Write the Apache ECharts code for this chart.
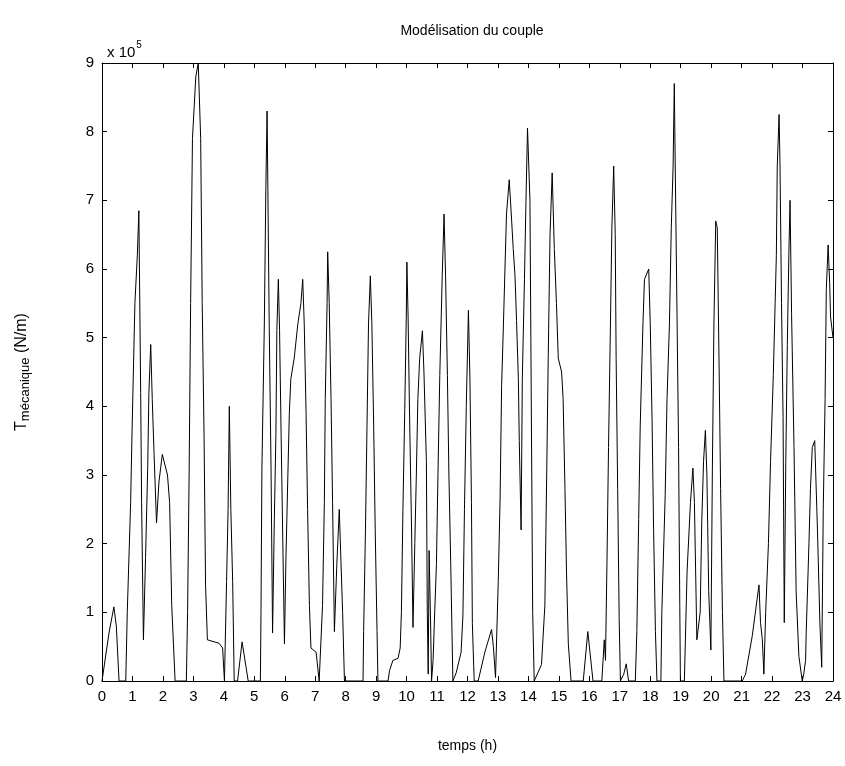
<!DOCTYPE html>
<html>
<head>
<meta charset="utf-8">
<script src="https://cdn.jsdelivr.net/npm/echarts@6/dist/echarts.min.js"></script>
<style>
html,body{margin:0;padding:0;background:#fff;}
#chart{width:845px;height:766px;}
</style>
</head>
<body>
<div id="chart"></div>
<script>
// time (h)
var hours = [
 0, 0.23, 0.39, 0.47, 0.56, 0.78, 0.83, 0.94, 0.99, 1.08, 1.16, 1.21, 1.27, 1.30, 1.36, 1.43, 1.50, 1.54, 1.60, 1.65,
 1.71, 1.79, 1.87, 1.98, 2.15, 2.22, 2.29, 2.40, 2.77, 2.81, 2.86, 2.91, 2.97, 3.08, 3.16, 3.24, 3.29, 3.35, 3.40, 3.46,
 3.84, 3.96, 4.02, 4.05, 4.09, 4.14, 4.18, 4.23, 4.29, 4.34, 4.45, 4.60, 4.73, 4.80, 5.20, 5.22, 5.25, 5.33, 5.38, 5.42,
 5.49, 5.55, 5.60, 5.66, 5.71, 5.74, 5.79, 5.83, 5.88, 5.93, 5.99, 6.04, 6.15, 6.20, 6.31, 6.43, 6.53, 6.59, 6.64, 6.70,
 6.75, 6.81, 6.86, 7.03, 7.13, 7.19, 7.24, 7.30, 7.33, 7.39, 7.41, 7.46, 7.52, 7.57, 7.63, 7.71, 7.79, 7.90, 7.96, 8.57,
 8.59, 8.65, 8.70, 8.75, 8.81, 8.86, 8.92, 8.97, 9.03, 9.06, 9.39, 9.44, 9.55, 9.72, 9.79, 9.83, 9.88, 9.94, 9.99, 10.01,
 10.05, 10.10, 10.16, 10.21, 10.27, 10.32, 10.37, 10.43, 10.52, 10.57, 10.65, 10.68, 10.71, 10.74, 10.79, 10.82, 10.87, 10.92, 10.98, 11.03,
 11.09, 11.17, 11.23, 11.28, 11.34, 11.39, 11.45, 11.52, 11.63, 11.79, 11.85, 11.90, 11.96, 12.03, 12.08, 12.13, 12.16, 12.22, 12.35, 12.57,
 12.79, 12.85, 12.92, 13.01, 13.07, 13.12, 13.18, 13.23, 13.28, 13.37, 13.45, 13.50, 13.56, 13.61, 13.67, 13.70, 13.76, 13.80, 13.87, 13.92,
 13.97, 14.05, 14.08, 14.14, 14.19, 14.43, 14.54, 14.60, 14.65, 14.71, 14.78, 14.85, 14.92, 14.98, 15.09, 15.14, 15.20, 15.25, 15.31, 15.40,
 15.80, 15.95, 16.12, 16.41, 16.49, 16.53, 16.58, 16.63, 16.69, 16.74, 16.80, 16.85, 16.88, 16.93, 16.98, 17.02, 17.13, 17.21, 17.29, 17.51,
 17.56, 17.62, 17.67, 17.76, 17.81, 17.95, 18.00, 18.06, 18.11, 18.17, 18.22, 18.35, 18.38, 18.49, 18.55, 18.63, 18.69, 18.75, 18.79, 18.82,
 18.88, 18.93, 18.97, 18.99, 19.12, 19.21, 19.32, 19.40, 19.45, 19.53, 19.64, 19.69, 19.75, 19.81, 19.86, 19.92, 19.99, 20.04, 20.09, 20.15,
 20.20, 20.26, 20.31, 20.37, 20.42, 21.02, 21.13, 21.35, 21.57, 21.62, 21.68, 21.73, 21.79, 21.88, 21.95, 22.04, 22.10, 22.14, 22.17, 22.23,
 22.26, 22.31, 22.36, 22.40, 22.45, 22.50, 22.55, 22.59, 22.64, 22.72, 22.79, 22.88, 22.99, 23.04, 23.10, 23.12, 23.21, 23.26, 23.32, 23.40,
 23.49, 23.57, 23.63, 23.68, 23.74, 23.78, 23.84, 23.89, 23.92, 24.00
];
// T mécanique, in units of 1e5 N/m
var torque = [
 0, 0.7, 1.08, 0.8, 0, 0, 1.0, 2.6, 3.7, 5.5, 6.2, 6.85, 4.2, 2.6, 0.6, 1.8, 3.1, 4.2, 4.9, 4.1,
 3.3, 2.3, 2.9, 3.3, 3.0, 2.6, 1.1, 0, 0, 1.0, 3.0, 5.5, 7.9, 8.8, 9.0, 7.9, 5.5, 3.6, 1.4, 0.6,
 0.55, 0.48, 0, 0, 1.45, 2.5, 4.0, 2.5, 1.45, 0, 0, 0.57, 0.2, 0, 0, 1.0, 3.1, 5.2, 7.2, 8.3,
 5.2, 3.1, 0.7, 2.4, 3.6, 5.1, 5.85, 5.1, 3.6, 2.2, 0.54, 1.8, 3.9, 4.4, 4.7, 5.2, 5.5, 5.85, 5.2, 3.9,
 2.5, 1.1, 0.48, 0.42, 0, 0, 1.1, 2.6, 4.1, 5.5, 6.25, 5.5, 4.1, 2.6, 0.72, 1.7, 2.5, 1.0, 0, 0,
 0.72, 2.2, 3.7, 5.2, 5.9, 5.2, 3.7, 2.2, 0.72, 0, 0, 0.15, 0.3, 0.33, 0.48, 1.0, 2.5, 3.95, 5.3, 6.1,
 5.3, 3.8, 2.3, 0.78, 2.0, 3.0, 4.1, 4.7, 5.1, 4.5, 3.2, 1.0, 0.1, 1.9, 0.8, 0, 0.3, 0.96, 1.7, 3.0,
 4.45, 5.9, 6.8, 5.9, 4.45, 3.0, 1.7, 0, 0.12, 0.42, 0.96, 2.5, 4.0, 5.4, 4.4, 2.6, 0.84, 0, 0, 0.42,
 0.75, 0.5, 0.05, 1.45, 2.65, 4.3, 5.2, 6.0, 6.8, 7.3, 6.7, 6.3, 5.9, 5.25, 4.4, 3.5, 2.2, 4.4, 5.85, 7.0,
 8.05, 7.0, 5.0, 1.0, 0, 0.24, 1.1, 3.0, 4.7, 6.5, 7.4, 6.3, 5.5, 4.7, 4.5, 4.1, 2.8, 1.6, 0.54, 0,
 0, 0.72, 0, 0, 0.6, 0.3, 1.75, 3.4, 5.1, 6.6, 7.5, 6.5, 4.7, 2.8, 0.9, 0, 0.1, 0.25, 0, 0,
 0.72, 2.35, 3.7, 5.2, 5.85, 6.0, 5.2, 3.8, 2.2, 0.72, 0, 0, 1.0, 2.7, 4.1, 5.2, 6.6, 7.5, 8.7, 7.5,
 5.3, 3.4, 1.1, 0, 0, 1.6, 2.6, 3.1, 2.6, 0.6, 1.0, 2.3, 3.2, 3.65, 3.0, 1.3, 0.45, 3.1, 5.2, 6.7,
 6.6, 4.6, 2.8, 1.0, 0, 0, 0.1, 0.66, 1.4, 0.85, 0.6, 0.1, 1.0, 2.0, 3.2, 4.45, 5.5, 6.2, 7.5, 8.25,
 7.5, 5.5, 3.85, 0.85, 3.2, 4.9, 6.2, 7.0, 5.35, 3.4, 1.3, 0.36, 0, 0.1, 0.3, 0.7, 2.0, 2.8, 3.4, 3.5,
 2.2, 0.84, 0.2, 2.5, 4.1, 5.7, 6.35, 5.8, 5.3, 5.0
];
var xTicks = [0,1,2,3,4,5,6,7,8,9,10,11,12,13,14,15,16,17,18,19,20,21,22,23,24];
var yTicks = [0,1,2,3,4,5,6,7,8,9];

var series = [];
for (var i = 0; i < hours.length; i++) series.push([hours[i], torque[i]]);

var font = "'Liberation Sans Narrow', 'Liberation Sans', Arial, sans-serif";
var chart = echarts.init(document.getElementById('chart'), null, {renderer: 'canvas'});
var axisCommon = {
  axisLine: {show: true, onZero: false, lineStyle: {color: '#000', width: 1}},
  axisTick: {show: true, inside: true, length: 5, lineStyle: {color: '#000'}},
  splitLine: {show: false}
};
chart.setOption({
  backgroundColor: '#ffffff',
  animation: false,
  title: [
    {text: 'Modélisation du couple', left: 467, top: 19, textAlign: 'center',
     textStyle: {fontFamily: font, fontSize: 14, fontWeight: 'normal', color: '#000'}},
    {text: '{a|x 10}{b|5}', left: 102, top: 35,
     textStyle: {fontWeight: 'normal', rich: {
       a: {fontFamily: font, fontSize: 15, fontWeight: 'normal', color: '#000', verticalAlign: 'bottom'},
       b: {fontFamily: font, fontSize: 10, fontWeight: 'normal', color: '#000', verticalAlign: 'top', padding: [0,0,10,1]}
     }}}
  ],
  grid: {left: 102, right: 12, top: 63, bottom: 85, containLabel: false},
  xAxis: [
    Object.assign({
      type: 'value', min: 0, max: 24, interval: 1, position: 'bottom',
      name: 'temps (h)', nameLocation: 'middle', nameGap: 58,
      nameTextStyle: {fontFamily: font, fontSize: 14, color: '#000'},
      axisLabel: {show: true, margin: 8, fontFamily: font, fontSize: 15, color: '#000',
        formatter: function (v) { return xTicks.indexOf(v) >= 0 ? String(v) : ''; }}
    }, axisCommon),
    Object.assign({
      type: 'value', min: 0, max: 24, interval: 1, position: 'top',
      axisLabel: {show: false}
    }, axisCommon)
  ],
  yAxis: [
    Object.assign({
      type: 'value', min: 0, max: 9, interval: 1, position: 'left',
      name: '{t|T}{s|mécanique}{t| (N/m)}', nameLocation: 'middle', nameGap: 70, nameRotate: 90,
      nameTextStyle: {rich: {
        t: {fontFamily: font, fontSize: 16, color: '#000'},
        s: {fontFamily: font, fontSize: 13, color: '#000', padding: [8,0,0,0]}
      }},
      axisLabel: {show: true, margin: 8, fontFamily: font, fontSize: 15, color: '#000',
        formatter: function (v) { return yTicks.indexOf(v) >= 0 ? String(v) : ''; }}
    }, axisCommon),
    Object.assign({
      type: 'value', min: 0, max: 9, interval: 1, position: 'right',
      axisLabel: {show: false}
    }, axisCommon)
  ],
  series: [{
    type: 'line', xAxisIndex: 0, yAxisIndex: 0,
    data: series, showSymbol: false, symbol: 'none',
    lineStyle: {color: '#000', width: 1}, clip: true
  }]
});
</script>
</body>
</html>
